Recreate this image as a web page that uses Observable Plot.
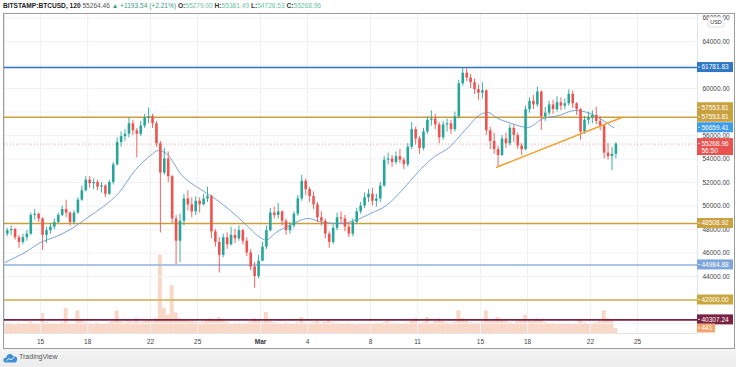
<!DOCTYPE html>
<html>
<head>
<meta charset="utf-8">
<script src="https://cdn.jsdelivr.net/npm/d3@7"></script>
<script src="https://cdn.jsdelivr.net/npm/@observablehq/plot@0.6"></script>
<style>
html,body{margin:0;padding:0;background:#fff;}
#wrap{position:relative;width:736px;height:367px;overflow:hidden;font-family:"Liberation Sans",Arial,sans-serif;background:#fff;}
#header{position:absolute;left:3px;top:1px;font-size:6.6px;white-space:nowrap;color:#333;line-height:10px;}
#header b{font-weight:bold;color:#222;}
#header .lp{color:#555;}
#header .up{color:#3a9d83;}
#header .k{font-weight:bold;color:#333;}
#header .v{color:#6cc2a4;}
#vol,#chart{position:absolute;left:0;top:13px;}
#frame{position:absolute;left:3px;top:13px;width:732px;height:336px;border:1px solid #9c9c9c;box-sizing:border-box;pointer-events:none;}
#footer{position:absolute;left:0;top:349px;width:736px;height:18px;background:linear-gradient(180deg,#f4f4f4 0%,#ececec 100%);}
#footer .logo{position:absolute;left:3px;top:4px;}
#footer .tv{position:absolute;left:19px;top:4px;font-size:7px;color:#555;}
</style>
</head>
<body>
<div id="wrap">
  <div id="header"></div>
  <div id="vol"></div>
  <div id="chart"></div>
  <div id="frame"></div>
  <div id="footer">
    <svg class="logo" width="15" height="10" viewBox="0 0 15 10"><path d="M3 9.5C1.2 9.5 0 8.2 0.4 6.5C0.8 5 2.2 4.4 3.2 4.7C3.5 2.2 5.5 0.6 7.6 1C9.1 1.3 10 2.4 10.3 3.5C11.2 2.9 12.6 3.1 13.4 4.1C14.6 5.3 14.6 7.8 13 9C12.6 9.4 12 9.5 11.5 9.5Z" fill="#3f8fd8"/><path d="M3.5 7.5L6 5.5L8 6.8L11.5 4" stroke="#fff" stroke-width="0.9" fill="none"/></svg>
    <span class="tv">TradingView</span>
  </div>
</div>
<script>
// ---------- header texts ----------
const symbolText = "BITSTAMP:BTCUSD, 120";
const lastPriceText = "55264.46";
const changeText = "+1193.54 (+2.21%)";
const ohlcKeys = ["O", "H", "L", "C"];
const ohlcVals = ["55279.00", "55381.49", "54726.53", "55268.96"];

// ---------- candle data: 6-hour candles starting 2021-02-12 18:00 UTC ----------
const firstOpen = 47600;
const close = [47900,
 48000,47300,46900,47300, 47600,49200,49300,48900, 47500,47900,48200,48600, 49200,49700,49400,48600,
 49400,50500,51300,52200, 51900,52000,51600,51700, 51000,52000,53500,55400, 55900,56100,57000,56400,
 56100,56800,57500,57600, 57000,55300,52800,54000, 52500,48900,47000,48700, 50600,50100,49500,50400,
 50100,50600,50800,47800, 46900,45800,47300,46700, 47500,47200,47900,47000, 46000,44800,44000,45300,
 46500,47900,49400,49200, 49500,48700,47900,48300, 49300,50600,52100,51400, 50800,50100,49000,48700,
 47600,46900,48100,49000, 48900,48200,47600,48600, 49500,50000,50700,51000, 50400,50600,51700,53900,
 54000,53700,54200,53900, 53500,55000,56500,55700, 54900,56300,57300,57400, 56900,55800,56900,57000,
 56500,57600,60400,61300, 60900,60500,59900,59600, 59800,56400,55500,54800, 54300,55700,55300,56600,
 56000,55100,54800,58200, 58900,58600,59700,57600, 57900,58600,58200,58800, 58500,58700,59500,58700,
 58200,56300,57300,57500, 57700,57200,56800,54500, 54200,54400,55268.96];
const high = [48100,
 48300,48100,47500,47600, 47900,49400,49700,49400, 49000,48200,48500,48900, 49400,50000,50500,49500,
 49600,50700,51700,52500, 52500,52300,52200,52000, 51800,52200,53700,55800, 56300,56500,57500,57300,
 56600,57200,57800,58350, 57800,57200,55500,54900, 54600,52600,49200,49300, 51000,51300,50700,50800,
 50700,51000,51600,50900, 48000,47300,47600,47700, 48200,48000,48300,48000, 47300,46300,45200,45800,
 46900,48300,49800,49900, 50200,49600,48900,48600, 49500,50900,52600,52300, 51600,51200,50300,49500,
 48900,47800,48400,49400, 49500,49200,48500,48900, 49800,50300,51100,51400, 51500,51000,52000,54200,
 54500,54300,54600,54800, 54100,55300,57100,56700, 55900,56600,57600,58100, 57800,57100,57200,57400,
 57300,58000,60700,61781.83, 61700,61200,60800,60300, 60500,59900,56700,56200, 55100,56000,56200,56900,
 56900,56200,55300,58500, 59200,59400,60100,59800, 58400,58900,59000,59300, 59200,59100,59900,59800,
 58800,58300,57600,58000, 58100,58400,57600,56900, 55300,55000,55400];
const low = [47400,
 47500,47100,46400,46700, 47000,47500,48800,48600, 46200,46800,47600,48000, 48500,49100,49000,48300,
 48400,49300,50400,51200, 51500,51400,51300,51100, 50700,50900,51800,53400, 55000,55500,55800,56000,
 54100,55900,56600,57000, 56600,55000,47700,52600, 52000,48500,45000,45200, 48300,49600,49000,49200,
 49400,50000,50300,47200, 46500,44300,45600,46300, 46600,46800,47000,46700, 45700,44500,43000,43800,
 45300,46300,47800,48900, 48900,48300,47500,47600, 48100,49100,50400,50900, 50300,49700,48600,48300,
 47200,46400,46700,47900, 48500,47800,47300,47400, 48400,49300,49800,50300, 50000,49900,50300,51600,
 53500,53300,53500,53600, 53100,53300,54800,55200, 54400,54700,56100,56800, 56500,55300,55600,56300,
 56100,56300,57400,60200, 60600,60000,59500,59000, 59100,56000,54800,54400, 53300,54200,54900,55100,
 55400,54800,54300,54700, 57900,58200,58400,56400, 57200,57700,57800,58000, 58100,58200,58500,58300,
 57700,55600,56100,56900, 57000,56900,56400,54000, 53900,53000,54000];
const volume = [800,
 850,760,900,820, 880,1000,820,780, 1760,950,850,900, 880,950,2200,900,
 850,2000,1050,950, 900,850,920,870, 850,950,1050,2000, 1050,920,1100,1000,
 1300,950,1050,1100, 1050,1300,6900,2200, 1600,4200,1800,1300, 1200,1100,1050,1000,
 950,1000,1100,1300, 1150,1400,1100,1000, 850,900,920,850, 900,1000,1300,1100,
 1000,1850,1050,950, 900,850,920,900, 880,950,1400,920, 900,950,1050,920,
 1000,1100,950,900, 850,820,900,800, 760,820,850,900, 880,920,900,950,
 1050,920,900,880, 850,900,1100,1300, 900,950,1400,900, 1050,1300,1100,950,
 900,950,2000,1300, 1050,950,900,920, 1000,2000,1100,1050, 1400,1100,1050,950,
 900,1050,1100,1600, 1100,1050,1300,1200, 950,900,920,880, 850,820,900,880,
 900,1150,950,850, 900,950,1050,2000, 1300,1100,441];

// ---------- moving average ----------
const maTimes = ["2021-02-12T18:00Z","2021-02-13T00:00Z","2021-02-14T00:00Z","2021-02-15T00:00Z","2021-02-16T00:00Z",
 "2021-02-17T00:00Z","2021-02-18T00:00Z","2021-02-19T00:00Z","2021-02-20T00:00Z","2021-02-21T00:00Z",
 "2021-02-22T00:00Z","2021-02-22T12:00Z","2021-02-23T00:00Z","2021-02-24T00:00Z","2021-02-25T00:00Z",
 "2021-02-26T00:00Z","2021-02-27T00:00Z","2021-02-28T00:00Z","2021-03-01T00:00Z","2021-03-01T08:00Z","2021-03-02T00:00Z",
 "2021-03-03T00:00Z","2021-03-04T00:00Z","2021-03-05T00:00Z","2021-03-06T00:00Z","2021-03-07T00:00Z",
 "2021-03-08T00:00Z","2021-03-09T00:00Z","2021-03-10T00:00Z","2021-03-11T00:00Z","2021-03-12T00:00Z",
 "2021-03-13T00:00Z","2021-03-14T00:00Z","2021-03-15T00:00Z","2021-03-15T12:00Z","2021-03-16T00:00Z",
 "2021-03-17T00:00Z","2021-03-18T00:00Z","2021-03-19T00:00Z","2021-03-20T00:00Z","2021-03-21T00:00Z",
 "2021-03-22T00:00Z","2021-03-23T00:00Z","2021-03-23T12:00Z"];
const maValues = [45200,45370,46040,46900,47400,
 48090,49020,49960,51150,53020,
 54300,54720,54470,52600,51570,
 50720,49700,48510,47300,47100,47750,
 48430,48940,48600,48510,48770,
 49360,50040,51320,52850,54130,
 54980,56430,57790,57960,57530,
 57020,56680,57450,57700,58130,
 57870,57110,56659.41];

// ---------- drawn lines ----------
const levelValues = [61781.83, 57553.81, 48508.92, 44984.88, 42000.00, 40307.24];
const levelColors = ["#2f74c0", "#c9a03b", "#c9a03b", "#8fb2de", "#cfae4e", "#7b2142"];
const trendTimes = ["2021-03-16T00:45Z", "2021-03-24T01:00Z"];
const trendValues = [53300, 57553.81];
const maLast = 56659.41;
const lastClose = 55268.96;
const countdown = "56:50";
const lastVolume = 441;

// ---------- axes ----------
const xTickDates = ["2021-02-15","2021-02-18","2021-02-22","2021-02-25","2021-03-01","2021-03-04",
 "2021-03-08","2021-03-11","2021-03-15","2021-03-18","2021-03-22","2021-03-25"].map(s => new Date(s + "T00:00Z"));
const yGridValues = [40000,42000,44000,46000,48000,50000,52000,54000,56000,58000,60000,62000,64000,66000];
const yLabelValues = [44000,46000,48000,50000,52000,54000,56000,60000,64000,66000];

// header
{
  const h = document.getElementById("header");
  let html = `<b>${symbolText}</b> <span class="lp">${lastPriceText}</span> <span class="up">&#9650; ${changeText}</span> `;
  ohlcKeys.forEach((k, i) => { html += `<span class="k">${k}:</span><span class="v">${ohlcVals[i]}</span> `; });
  h.innerHTML = html;
}

const H6 = 6 * 3600e3;
const t0 = Date.UTC(2021, 1, 12, 18);
const candles = close.map((c, i) => ({
  t: new Date(t0 + i * H6),
  tEnd: new Date(t0 + (i + 1) * H6),
  mid: new Date(t0 + i * H6 + H6 / 2),
  open: i ? close[i - 1] : firstOpen,
  close: c, high: high[i], low: low[i], vol: volume[i]
}));
const ma = maTimes.map((t, i) => ({t: new Date(t), v: maValues[i]}));
const trend = trendTimes.map((t, i) => ({t: new Date(t), v: trendValues[i]}));
const levels = levelValues.map((v, i) => ({v, c: levelColors[i]}));

const xDomain = [new Date(Date.UTC(2021, 1, 12, 16, 50)), new Date(Date.UTC(2021, 2, 28, 19, 40))];
const W = 736, HGT = 336;
const common = {width: W, height: HGT, marginLeft: 4, marginRight: 39, marginTop: 0, marginBottom: 16};
const UP = "#26a69a", DOWN = "#ef5350";

// volume layer
const volChart = Plot.plot({
  ...common,
  style: {background: "transparent"},
  x: {type: "utc", domain: xDomain, axis: null},
  y: {domain: [0, 28160], axis: null},
  marks: [
    Plot.rectY(candles, {x1: "t", x2: "tEnd", y: "vol", fill: "#f0a07a", fillOpacity: 0.42})
  ]
});
document.getElementById("vol").appendChild(volChart);

// price layer
const chart = Plot.plot({
  ...common,
  style: {background: "transparent", fontFamily: "Liberation Sans, Arial, sans-serif", fontSize: "6.5px", color: "#444"},
  x: {type: "utc", domain: xDomain, ticks: xTickDates, tickSize: 0, tickPadding: 6, label: null,
      tickFormat: d => d.getUTCDate() === 1 ? "Mar" : String(d.getUTCDate())},
  y: {domain: [39149, 66383], axis: "right", ticks: yLabelValues, tickSize: 0, tickPadding: 5, label: null,
      tickFormat: d => d.toFixed(2)},
  marks: [
    Plot.ruleX(xTickDates, {stroke: "#eef0f4"}),
    Plot.ruleY(yGridValues, {stroke: "#f1f2f5"}),
    Plot.frame({stroke: "#e2e4ea"}),
    Plot.ruleY([lastClose], {stroke: DOWN, strokeOpacity: 0.55, strokeDasharray: "1,2"}),
    Plot.ruleY(levels, {y: "v", stroke: "c", strokeWidth: 1.6}),
    Plot.line(ma, {x: "t", y: "v", stroke: "#6a98d6", strokeWidth: 0.9, curve: "monotone-x"}),
    Plot.ruleX(candles, {x: "mid", y1: "low", y2: "high", stroke: d => d.close >= d.open ? UP : DOWN, strokeWidth: 0.9}),
    Plot.ruleX(candles, {x: "mid", y1: "open", y2: "close", stroke: d => d.close >= d.open ? UP : DOWN, strokeWidth: 2.6}),
    Plot.line(trend, {x: "t", y: "v", stroke: "#f0a02e", strokeWidth: 1.5})
  ]
});
document.getElementById("chart").appendChild(chart);

// bold month label
d3.select(chart).selectAll("text").filter(function() { return this.textContent === "Mar"; })
  .attr("font-weight", "bold").attr("fill", "#333");

// price badges, placed with the chart's own y scale
const ys = chart.scale("y");
const svg = d3.select(chart);
function badge(yPix, text, bg, w = 36, h = 10) {
  const g = svg.append("g").attr("text-anchor", "start");
  g.append("rect").attr("x", 697).attr("y", yPix - h / 2).attr("width", w).attr("height", h).attr("fill", bg);
  g.append("line").attr("x1", 698).attr("x2", 700).attr("y1", yPix).attr("y2", yPix).attr("stroke", "#fff").attr("stroke-width", 0.8);
  g.append("text").attr("x", 701.5).attr("y", yPix).attr("dy", "0.35em").attr("font-size", 6.5)
    .attr("text-anchor", "start").attr("fill", "#fff").text(text);
  return g;
}
// USD tag at top
{
  const g = svg.append("g");
  g.append("rect").attr("x", 708).attr("y", 4).attr("width", 16).attr("height", 10).attr("rx", 2)
    .attr("fill", "#fff").attr("stroke", "#c8c8c8").attr("stroke-width", 0.6);
  g.append("text").attr("x", 716).attr("y", 9).attr("dy", "0.35em").attr("text-anchor", "middle")
    .attr("font-size", 5.5).attr("fill", "#333").text("USD");
}
badge(ys.apply(levelValues[0]), levelValues[0].toFixed(2), "#3078c4");
badge(ys.apply(levelValues[1]) - 9.5, trendValues[1].toFixed(2), "#c9a23f");
badge(ys.apply(levelValues[1]), levelValues[1].toFixed(2), "#c9a23f");
badge(ys.apply(maLast), maLast.toFixed(2), "#3d9be9");
{
  const yp = ys.apply(lastClose);
  const g = svg.append("g").attr("text-anchor", "start");
  g.append("rect").attr("x", 697).attr("y", yp - 5.5).attr("width", 36).attr("height", 17).attr("fill", "#e9524f");
  g.append("line").attr("x1", 698).attr("x2", 700).attr("y1", yp).attr("y2", yp).attr("stroke", "#fff").attr("stroke-width", 0.8);
  g.append("text").attr("x", 701.5).attr("y", yp).attr("dy", "0.35em").attr("font-size", 6.5).attr("fill", "#fff").text(lastClose.toFixed(2));
  g.append("text").attr("x", 701.5).attr("y", yp + 7.6).attr("dy", "0.35em").attr("font-size", 6.5).attr("fill", "#fff").text(countdown);
}
badge(ys.apply(levelValues[2]), levelValues[2].toFixed(2), "#c9a23f");
badge(ys.apply(levelValues[3]), levelValues[3].toFixed(2), "#7fa6dc");
badge(ys.apply(levelValues[4]), levelValues[4].toFixed(2), "#c9a640");
badge(ys.apply(levelValues[5]), levelValues[5].toFixed(2), "#7b2142");
badge(volChart.scale("y").apply(lastVolume), String(lastVolume), "#f3a56e", 18, 9);
</script>
</body>
</html>
